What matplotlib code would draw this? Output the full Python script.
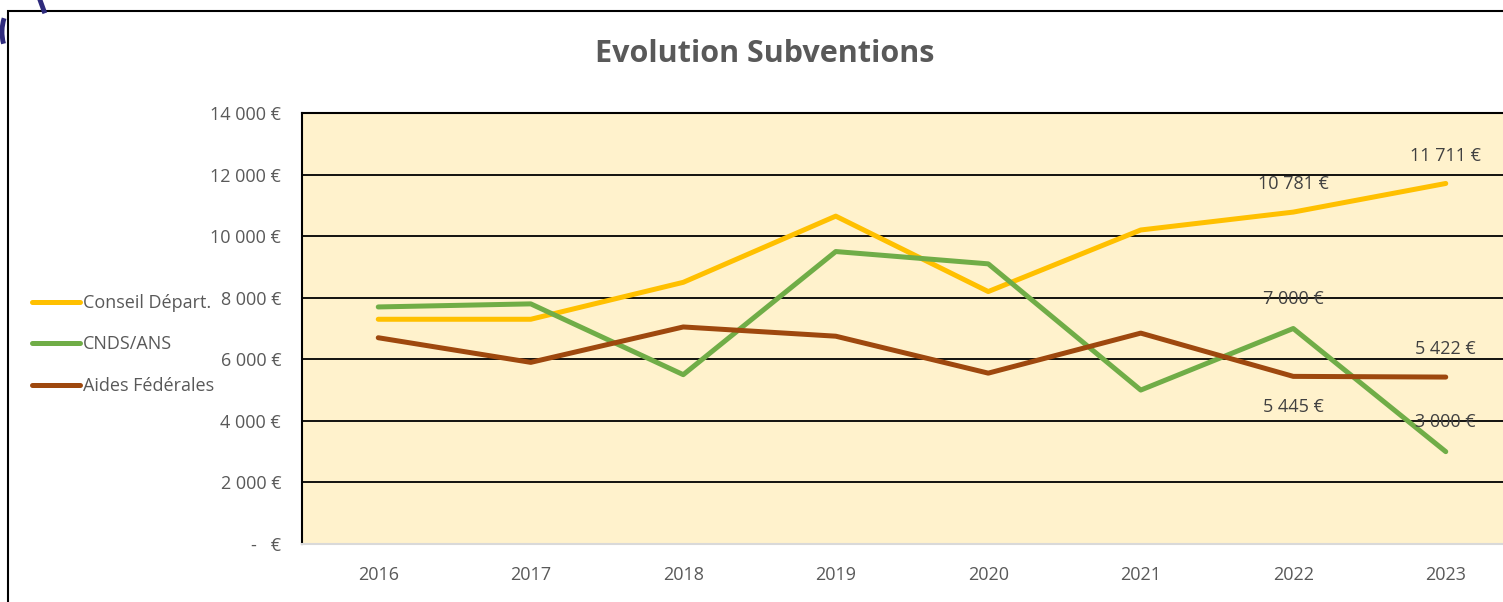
import matplotlib
matplotlib.use("Agg")
import matplotlib.pyplot as plt
from matplotlib.lines import Line2D
from matplotlib.patches import Rectangle, Arc

plt.rcParams["font.family"] = ["Open Sans", "DejaVu Sans"]

years = ["2016", "2017", "2018", "2019", "2020", "2021", "2022", "2023"]
conseil = [7300, 7300, 8500, 10650, 8200, 10200, 10781, 11711]
cnds = [7700, 7800, 5500, 9500, 9100, 5000, 7000, 3000]
aides = [6700, 5900, 7050, 6750, 5550, 6850, 5445, 5422]
series_names = ["Conseil Départ.", "CNDS/ANS", "Aides Fédérales"]
colors = ["#FFC000", "#70AD47", "#9E480E"]
yticks = [0, 2000, 4000, 6000, 8000, 10000, 12000, 14000]


def euro(v):
    if v == 0:
        return "-   €"
    return f"{v:,.0f} €".replace(",", " ")


fig = plt.figure(figsize=(15.03, 6.02), dpi=100)
fig.patch.set_facecolor("white")

# outer chart frame (cut off on the right and bottom)
fig.add_artist(Rectangle((8 / 1503, -0.1), 1.1, 1 - 11 / 602 + 0.1,
                         transform=fig.transFigure, fill=False,
                         edgecolor="black", linewidth=1.5))
# fragments of a logo behind the frame
fig.add_artist(Arc((24 / 1503, 1 - 32 / 602), 44 / 1503, 64 / 602, theta1=120, theta2=235,
                   transform=fig.transFigure, color="#2E2A7C", linewidth=3.5))
fig.add_artist(Line2D([40 / 1503, 44 / 1503], [1.0, 1 - 11 / 602],
                      transform=fig.transFigure, color="#2E2A7C", linewidth=3.5))

ax = fig.add_axes([302 / 1503, 1 - 544 / 602, 1220 / 1503, 431 / 602])
ax.set_facecolor("#FFF2CC")
x = list(range(len(years)))
for vals, name, c in zip([conseil, cnds, aides], series_names, colors):
    ax.plot(x, vals, color=c, linewidth=3.6, solid_capstyle="round",
            solid_joinstyle="round", label=name, zorder=3)

ax.set_xlim(-0.5, len(years) - 0.5)
ax.set_ylim(0, 14000)
ax.set_yticks(yticks)
ax.set_yticklabels([euro(v) for v in yticks])
ax.set_xticks(x)
ax.set_xticklabels(years)
ax.tick_params(axis="both", length=0, labelsize=13, colors="#595959")
ax.tick_params(axis="y", pad=15)
ax.tick_params(axis="x", pad=16)
for v in yticks[1:]:
    ax.axhline(v, color="black", linewidth=1.3, zorder=1)
for s in ["left", "top"]:
    ax.spines[s].set_color("black")
    ax.spines[s].set_linewidth(1.5)
ax.spines["right"].set_visible(False)
ax.spines["bottom"].set_color("#D9D9D9")
ax.spines["bottom"].set_linewidth(1.5)

# data labels on the last two years
lab_kw = dict(ha="center", va="center", fontsize=13, color="#404040", zorder=4)
for i in [6, 7]:
    ax.annotate(euro(conseil[i]), (i, conseil[i]), xytext=(0, 20),
                textcoords="offset points", **lab_kw)
    ax.annotate(euro(cnds[i]), (i, cnds[i]), xytext=(0, 21),
                textcoords="offset points", **lab_kw)
ax.annotate(euro(aides[6]), (6, aides[6]), xytext=(0, -22),
            textcoords="offset points", **lab_kw)
ax.annotate(euro(aides[7]), (7, aides[7]), xytext=(0, 20),
            textcoords="offset points", **lab_kw)

fig.text(765 / 1503, 1 - 54 / 602, "Evolution Subventions", ha="center", va="center",
         fontsize=22, fontweight="bold", color="#595959")

fig.legend(loc="upper left", bbox_to_anchor=(32 / 1503, 1 - 294 / 602),
           frameon=False, fontsize=13, labelcolor="#595959",
           borderpad=0, borderaxespad=0,
           handlelength=2.65, handletextpad=0.15, labelspacing=1.3)

fig.savefig("out.png", dpi=100, facecolor="white")
